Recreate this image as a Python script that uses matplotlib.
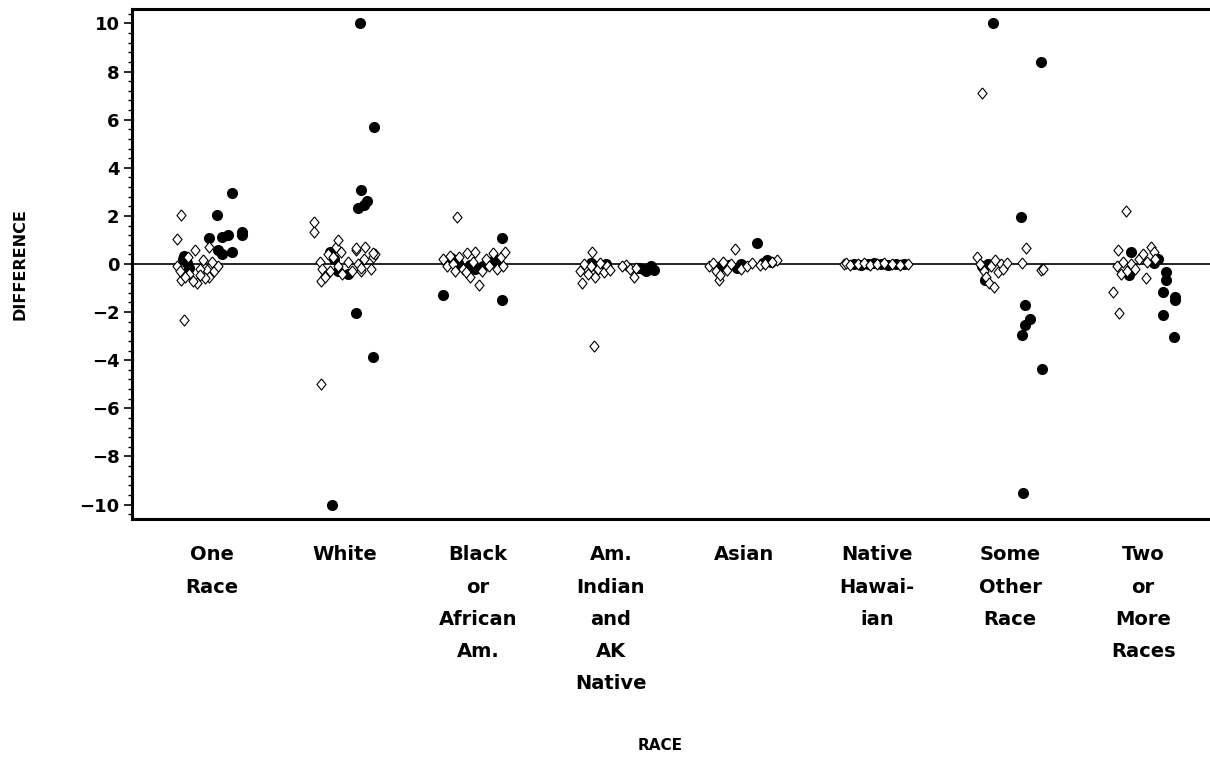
import numpy as np
import matplotlib.pyplot as plt
from matplotlib.ticker import MultipleLocator

plt.rcParams['font.family'] = ['DejaVu Sans']
plt.rcParams['font.weight'] = 'bold'

# race groups on the x axis
races = ['One\nRace', 'White', 'Black\nor\nAfrican\nAm.', 'Am.\nIndian\nand\nAK\nNative',
         'Asian', 'Native\nHawai-\nian', 'Some\nOther\nRace', 'Two\nor\nMore\nRaces']

# open diamonds: position inside the group and difference
open_dx = [
    [-0.23, -0.26, -0.21, -0.13, -0.02, -0.04, -0.02, -0.11, -0.23, -0.26, -0.18, -0.17,
     -0.09, -0.07, -0.20, -0.14, 0.02, 0.05, 0.00, -0.05, -0.09, -0.24],
    [-0.23, -0.23, -0.18, -0.19, -0.17, -0.15, -0.13, -0.11, -0.09, -0.07, -0.05, -0.03,
     -0.02, 0.02, 0.05, 0.08, 0.10, 0.12, 0.14, 0.15, 0.20, 0.21, 0.23, -0.18, -0.05,
     0.08, 0.21, -0.15, 0.12],
    [-0.16, -0.26, -0.23, -0.21, -0.19, -0.17, -0.14, -0.11, -0.08, -0.06, -0.04, -0.02,
     0.01, 0.03, 0.06, 0.08, 0.11, 0.14, 0.17, 0.19, 0.20, -0.09],
    [-0.14, -0.22, -0.13, -0.23, -0.20, -0.17, -0.15, -0.12, -0.10, -0.08, -0.05, -0.03,
     -0.01, 0.11, 0.14, 0.17, 0.08, 0.19],
    [-0.07, -0.19, 0.25, -0.26, -0.23, -0.21, -0.18, -0.16, -0.13, -0.10, -0.02, 0.02,
     0.06, 0.12, 0.16, 0.21],
    [-0.25, -0.23, -0.20, -0.14, -0.10, -0.05, 0.00, 0.05, 0.11, 0.17, 0.23],
    [-0.21, 0.12, 0.09, 0.23, 0.25, -0.25, -0.23, -0.20, -0.18, -0.16, -0.14, -0.11,
     -0.09, -0.07, -0.05, -0.02, -0.12],
    [-0.13, -0.23, -0.18, -0.19, 0.06, 0.02, -0.20, -0.17, -0.15, -0.12, -0.09, -0.06,
     -0.03, 0.00, 0.03, 0.08, 0.09],
]
open_diff = [
    [2.05, 1.04, -2.34, 0.58, 0.70, -0.25, -0.54, -0.80, -0.67, -0.10, 0.30, -0.40,
     -0.20, 0.15, -0.55, -0.70, -0.30, -0.10, 0.10, -0.60, -0.45, -0.30],
    [1.75, 1.35, -4.97, 0.10, -0.20, -0.50, 0.40, -0.30, 0.30, 0.70, -0.10, 0.50,
     -0.40, 0.10, -0.30, 0.60, 0.00, -0.30, 0.20, 0.70, -0.20, 0.30, 0.40, -0.70, 1.00,
     0.67, 0.46, -0.54, -0.17],
    [1.96, 0.20, -0.10, 0.35, 0.00, -0.30, 0.30, -0.20, 0.45, -0.54, 0.10, 0.50,
     -0.88, -0.30, 0.20, -0.10, 0.45, -0.20, 0.30, -0.10, 0.50, -0.35],
    [0.50, -0.80, -3.42, -0.30, 0.00, -0.40, -0.10, -0.55, -0.20, 0.05, -0.35, -0.10,
     -0.25, -0.05, -0.20, -0.54, -0.10, -0.15],
    [0.62, -0.67, 0.17, -0.10, 0.05, -0.30, -0.45, 0.10, -0.25, 0.00, -0.20, -0.10,
     0.05, -0.05, 0.00, 0.10],
    [0.00, 0.05, -0.05, 0.00, 0.05, -0.05, 0.00, 0.05, 0.00, -0.05, 0.00],
    [7.10, 0.67, 0.04, -0.25, -0.20, 0.30, 0.00, -0.30, -0.55, -0.80, -0.10, 0.15,
     -0.35, 0.00, -0.20, 0.05, -0.95],
    [2.21, -1.17, -2.05, 0.58, 0.70, -0.58, -0.10, -0.40, 0.10, -0.30, 0.00, -0.20,
     0.20, 0.40, 0.10, 0.50, 0.20],
]

# filled circles: position inside the group and difference
fill_dx = [
    [0.15, 0.04, -0.02, 0.08, 0.12, 0.23, 0.23, 0.05, 0.15, 0.08, -0.22, -0.19, -0.21, -0.17],
    [0.11, 0.22, 0.12, 0.14, 0.17, 0.10, 0.08, 0.21, -0.10, -0.11, -0.08, -0.05, 0.02],
    [0.18, -0.26, 0.18, -0.23, -0.20, -0.15, -0.06, -0.02, 0.04, 0.09, 0.13, 0.15],
    [-0.15, -0.11, -0.08, -0.04, 0.21, 0.24, 0.26, 0.30, 0.32],
    [0.10, -0.17, -0.11, -0.05, -0.02, 0.14, 0.17, 0.20],
    [-0.17, -0.12, -0.07, -0.02, 0.03, 0.08, 0.14, 0.20],
    [-0.13, 0.23, 0.08, 0.11, 0.15, 0.11, 0.09, 0.24, 0.10, -0.19, -0.21, -0.17],
    [-0.09, -0.11, 0.08, 0.17, 0.17, 0.15, 0.24, 0.24, 0.15, 0.23, 0.11],
]
fill_diff = [
    [2.96, 2.05, 1.08, 1.13, 1.20, 1.35, 1.20, 0.58, 0.50, 0.40, 0.20, 0.05, 0.35, -0.15],
    [10.0, 5.68, 3.09, 2.46, 2.62, 2.34, -2.05, -3.88, -10.0, 0.50, 0.20, -0.30, -0.40],
    [1.08, -1.29, -1.50, 0.10, 0.25, 0.05, -0.05, -0.20, -0.10, 0.10, 0.20, 0.05],
    [0.05, -0.10, -0.15, 0.00, -0.15, -0.20, -0.30, -0.10, -0.25],
    [0.88, -0.10, -0.05, -0.15, 0.00, 0.05, 0.15, 0.10],
    [0.00, -0.05, 0.00, 0.05, 0.00, -0.05, 0.00, 0.02],
    [10.0, 8.40, 1.96, -1.71, -2.30, -2.55, -2.96, -4.38, -9.50, -0.67, -0.10, 0.00],
    [0.50, -0.46, 0.04, -0.33, -0.67, -1.17, -1.38, -1.50, -2.13, -3.05, 0.20],
]

diamond = [(0, 1), (0.82, 0), (0, -1), (-0.82, 0), (0, 1)]

fig = plt.figure(figsize=(12.1, 7.61), dpi=100)
ax = fig.add_axes([132 / 1210, 1 - 519 / 761, (1223 - 132) / 1210, 510 / 761])

for i in range(len(races)):
    pos = i + 1
    ax.plot(pos + np.array(fill_dx[i]), fill_diff[i], 'o', ms=8, color='black',
            markeredgewidth=0, zorder=3)
    ax.plot(pos + np.array(open_dx[i]), open_diff[i], marker=diamond, ls='none', ms=8,
            markerfacecolor='white', markeredgecolor='black', markeredgewidth=0.8, zorder=4)

ax.axhline(0, color='black', lw=1.2, zorder=2)

ax.set_xlim(0.4, 8.6)
ax.set_ylim(-10.6, 10.6)
ax.set_xticks(range(1, len(races) + 1))
ax.set_xticklabels(races, fontsize=14, fontweight='bold', linespacing=1.88)
ax.tick_params(axis='x', length=0, pad=19)
ax.yaxis.set_major_locator(MultipleLocator(2))
ax.yaxis.set_minor_locator(MultipleLocator(0.4))
ax.tick_params(axis='y', which='major', length=6, width=1.2, labelsize=13, pad=3)
ax.tick_params(axis='y', which='minor', length=3, width=1.0)
for lab in ax.get_yticklabels():
    lab.set_fontweight('bold')

for side in ['left', 'top', 'bottom']:
    ax.spines[side].set_linewidth(2.2)
ax.spines['right'].set_visible(False)

fig.text(20 / 1210, 1 - 264 / 761, 'DIFFERENCE', rotation=90, ha='center', va='center',
         fontsize=11.5, fontweight='bold')
fig.text(660 / 1210, 1 - 745 / 761, 'RACE', ha='center', va='center',
         fontsize=11, fontweight='bold')

fig.savefig('out.png', dpi=100)
